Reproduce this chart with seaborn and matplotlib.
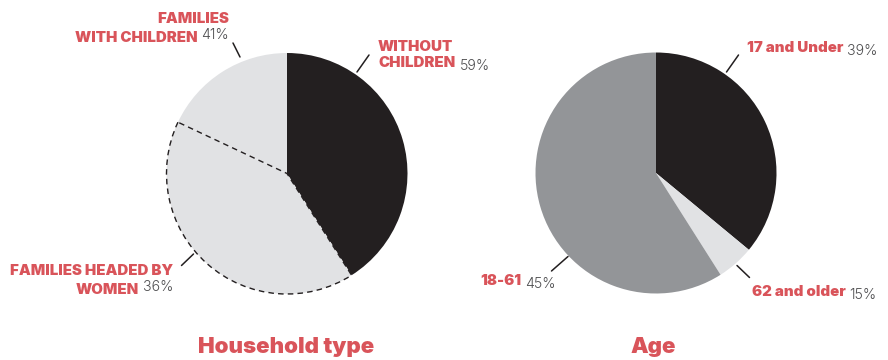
import matplotlib
matplotlib.use("Agg")
import matplotlib.pyplot as plt
import seaborn as sns

# Household type pie (slice sizes)
household_sizes = [41, 41, 18]
household_colors = ["#231f20", "#e1e2e4", "#e1e2e4"]

# Age pie
age_sizes = [36, 5, 59]
age_colors = ["#231f20", "#e1e2e4", "#939598"]

# Label texts
household_labels = [["FAMILIES", "WITH CHILDREN"], ["WITHOUT", "CHILDREN"],
                    ["FAMILIES HEADED BY", "WOMEN"]]
household_pcts = ["41%", "59%", "36%"]
age_labels = [["17 and Under"], ["62 and older"], ["18-61"]]
age_pcts = ["39%", "15%", "45%"]
titles = ["Household type", "Age"]

RED = "#d9545a"
PCT = "#4d4d4f"

sns.set_style("white")
plt.rcParams["font.family"] = ["Inter", "DejaVu Sans"]

W, H = 888, 360
fig = plt.figure(figsize=(W / 100, H / 100), dpi=100)
ax = fig.add_axes([0, 0, 1, 1])
ax.axis("off")


def py(y):
    # pixel y from top -> data y
    return H - y


# left pie
wedges, _ = ax.pie(household_sizes, colors=household_colors, startangle=90,
                   counterclock=False, center=(287, py(173.5)), radius=120.5,
                   wedgeprops=dict(linewidth=0))
wedges[1].set_edgecolor("#231f20")
wedges[1].set_linewidth(1.0)
wedges[1].set_linestyle((0, (4, 3)))
wedges[1].set_zorder(3)

# right pie
ax.pie(age_sizes, colors=age_colors, startangle=90, counterclock=False,
       center=(656, py(173)), radius=120.5, wedgeprops=dict(linewidth=0))

ax.set_xlim(0, W)
ax.set_ylim(0, H)
ax.set_aspect("equal")

LAB = dict(color=RED, fontsize=10.8, fontweight=900)
PKW = dict(color=PCT, fontsize=10.2, fontweight=300)
GAP = 16


def label_left(x, y_last, lines, pct):
    # lines left aligned at x; pct follows the last line
    n = len(lines)
    t = None
    for i, s in enumerate(lines):
        t = ax.text(x, py(y_last - (n - 1 - i) * GAP), s, ha="left", va="baseline", **LAB)
    ax.annotate(pct, xy=(1, 0), xycoords=t, xytext=(3, 0), textcoords="offset points",
                ha="left", va="baseline", **PKW)


def label_right(x, y_last, lines, pct):
    # block right aligned at x; pct ends the last line
    n = len(lines)
    p = ax.text(x, py(y_last), pct, ha="right", va="baseline", **PKW)
    for i, s in enumerate(lines[:-1]):
        ax.text(x, py(y_last - (n - 1 - i) * GAP), s, ha="right", va="baseline", **LAB)
    ax.annotate(lines[-1], xy=(0, 0), xycoords=p, xytext=(-3, 0), textcoords="offset points",
                ha="right", va="baseline", **LAB)


def leader(x0, y0, x1, y1):
    ax.plot([x0, x1], [py(y0), py(y1)], color="#231f20", lw=1.1)


# household labels
label_right(229, 39, household_labels[0], household_pcts[0])
leader(233, 43, 240, 57)
label_left(378, 66.7, household_labels[1], household_pcts[1])
leader(369, 55, 357, 72)
label_right(173.5, 290.7, household_labels[2], household_pcts[2])
leader(181.5, 265.5, 193.5, 254)

# age labels
label_left(746.5, 51.7, age_labels[0], age_pcts[0])
leader(738.5, 55, 726.5, 72)
label_left(751.5, 296, age_labels[1], age_pcts[1])
leader(737, 265.5, 749.5, 277.5)
label_left(480, 285.3, age_labels[2], age_pcts[2])
leader(551.5, 271, 568, 256.5)

# titles
TKW = dict(ha="center", va="baseline", color=RED, fontsize=16, fontweight=900)
ax.text(286, py(353), titles[0], **TKW)
ax.text(653.5, py(353), titles[1], **TKW)

fig.savefig("out.png", dpi=100)
